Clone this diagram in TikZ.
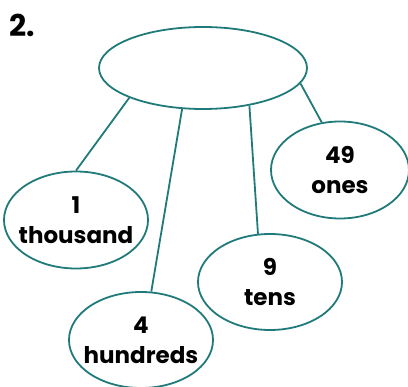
\documentclass[tikz,border=0pt]{standalone}
\usepackage{fontspec}
\setmainfont{Poppins}
\usepackage{xcolor}
\usepackage{tikz}
\usetikzlibrary{shapes.geometric}
\definecolor{bondteal}{HTML}{217A7A}
\tikzstyle{bubble} = [ellipse,draw=bondteal,line width=1.8pt,inner ysep=0pt,inner xsep=-9pt,align=center,text centered,font=\bfseries\fontsize{23}{30}\selectfont]
\tikzstyle{bond} = [draw=bondteal,line width=1.8pt]

\begin{document}
\begin{tikzpicture}[x=1pt,y=-1pt]
\useasboundingbox (0,0) rectangle (408,387);
\node (num) [font=\bfseries\fontsize{30}{30}\selectfont] at (22,25) {2.};
\node (whole) [bubble,minimum width=208pt,minimum height=82pt] at (203,68) {};
\node (thou) [bubble,minimum width=144pt,minimum height=97pt] at (76,220) {1\\thousand};
\node (hund) [bubble,minimum width=144pt,minimum height=96pt] at (141,340) {4\\hundreds};
\node (tens) [bubble,minimum width=144pt,minimum height=96pt] at (270,282) {9\\tens};
\node (ones) [bubble,minimum width=138pt,minimum height=97pt] at (340,170) {49\\ones};

\draw [bond] (whole.202) -- (thou.north);
\draw [bond] (whole.243) -- (hund.78);
\draw [bond] (whole.321) -- (tens.104);
\draw [bond] (whole.351) -- (ones.111);
\end{tikzpicture}
\end{document}
